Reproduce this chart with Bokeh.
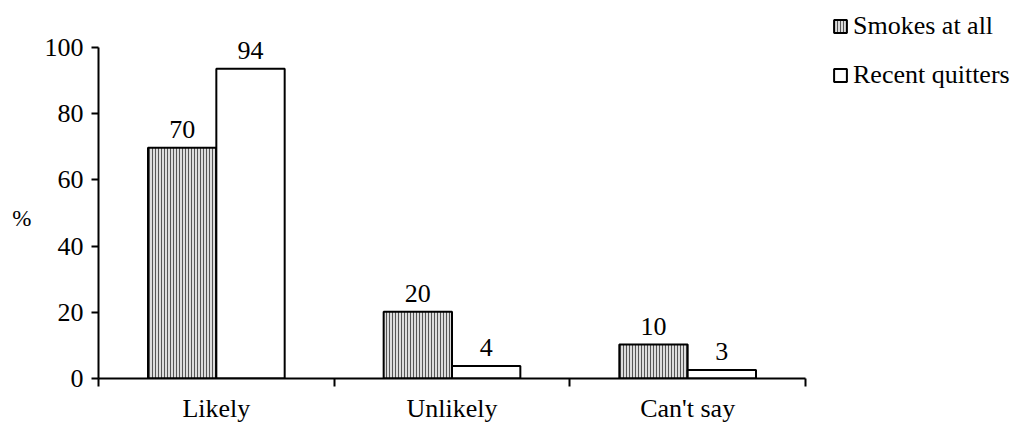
from bokeh.plotting import figure
from bokeh.models import (ColumnDataSource, Range1d, FixedTicker, Legend, LegendItem)
from bokeh.core.properties import value
from bokeh.embed import file_html
from bokeh.resources import INLINE

categories = ["Likely", "Unlikely", "Can't say"]
smokes = [69.7, 20.2, 10.3]
quitters = [93.6, 3.8, 2.6]
smokes_labels = ["70", "20", "10"]
quitters_labels = ["94", "4", "3"]
series_names = ["Smokes at all", "Recent quitters"]
y_ticks = [0, 20, 40, 60, 80, 100]
y_title = "%"

FONT = "Liberation Serif"
BW = 0.29
N = len(categories)

centers = [i + 0.5 for i in range(N)]
src_s = ColumnDataSource(dict(x=[c - BW / 2 for c in centers], top=smokes, lab=smokes_labels))
src_q = ColumnDataSource(dict(x=[c + BW / 2 for c in centers], top=quitters, lab=quitters_labels))

# frame: left 98, right 1015, top 2, bottom 378 -> y 0..100 spans 378..47
p = figure(width=1015, height=425, output_backend="svg", toolbar_location=None,
           x_range=Range1d(0, N * 917 / 707), y_range=Range1d(0, 100 * 376 / 331),
           min_border_left=98, min_border_right=0, min_border_top=2, min_border_bottom=47)
p.outline_line_color = None
p.xgrid.visible = False
p.ygrid.visible = False
p.background_fill_color = "white"
p.border_fill_color = "white"

rs = p.vbar(x="x", top="top", width=BW, bottom=0, source=src_s,
            fill_color="#dcdcdc", hatch_pattern="|", hatch_color="#555555",
            hatch_scale=3, hatch_weight=1, line_color="black", line_width=2)
rq = p.vbar(x="x", top="top", width=BW, bottom=0, source=src_q,
            fill_color="white", line_color="black", line_width=2)

for src in (src_s, src_q):
    p.text(x="x", y="top", text="lab", source=src, text_align="center",
           text_baseline="alphabetic", y_offset=-18, text_font=value(FONT),
           text_font_size="26px", text_color="black")

# x axis
xa = p.xaxis[0]
xa.bounds = (0, N)
xa.ticker = FixedTicker(ticks=centers, minor_ticks=list(range(N + 1)))
xa.major_label_overrides = {c: name for c, name in zip(centers, categories)}
xa.major_tick_out = 0
xa.major_tick_in = 0
xa.minor_tick_out = 8
xa.minor_tick_in = 0
xa.minor_tick_line_color = "black"
xa.minor_tick_line_width = 2
xa.axis_line_width = 2
xa.axis_line_color = "black"
xa.major_label_text_font = FONT
xa.major_label_text_font_size = "26px"
xa.major_label_text_color = "black"
xa.major_label_standoff = 7

# y axis
ya = p.yaxis[0]
ya.bounds = (0, 100)
ya.ticker = FixedTicker(ticks=y_ticks)
ya.minor_tick_line_color = None
ya.major_tick_out = 7
ya.major_tick_in = 0
ya.major_tick_line_width = 2
ya.axis_line_width = 2
ya.axis_line_color = "black"
ya.major_label_text_font = FONT
ya.major_label_text_font_size = "26px"
ya.major_label_text_color = "black"
ya.major_label_standoff = 8
ya.axis_label = "\n\n" + y_title
ya.axis_label_orientation = "horizontal"
ya.axis_label_text_font = FONT
ya.axis_label_text_font_style = "normal"
ya.axis_label_text_font_size = "23px"
ya.axis_label_text_line_height = 1.1
ya.axis_label_text_color = "black"
ya.axis_label_standoff = 10

legend = Legend(items=[LegendItem(label=series_names[0], renderers=[rs]),
                       LegendItem(label=series_names[1], renderers=[rq])],
                location=(734, 288), border_line_color=None, background_fill_alpha=0,
                padding=0, margin=0, spacing=19, glyph_width=16, glyph_height=16,
                label_standoff=5, label_height=30,
                label_text_font=FONT, label_text_font_size="26px",
                label_text_color="black")
p.add_layout(legend)

open("out.html", "w").write(file_html(p, INLINE))
